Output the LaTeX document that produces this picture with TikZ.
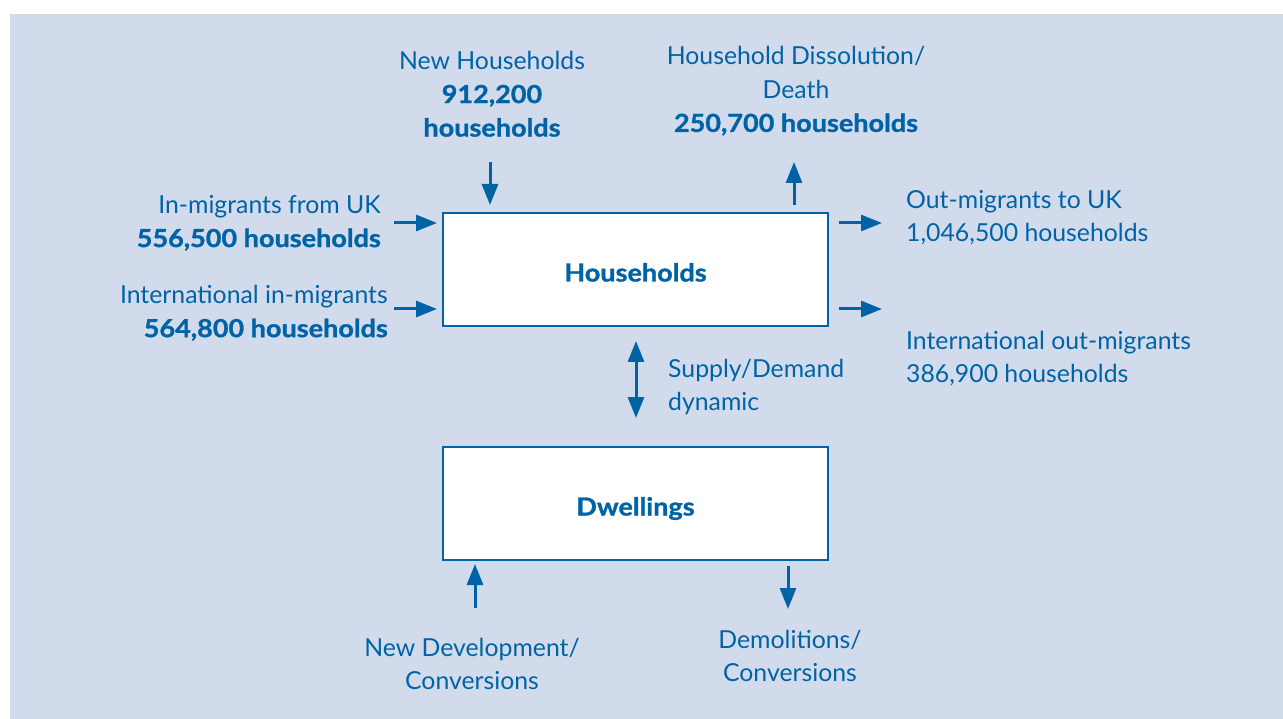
\documentclass[tikz,border=0pt]{standalone}
\usepackage{fontspec}
\setmainfont{Lato}[BoldFeatures={FakeBold=1.2,FakeStretch=1.09}]
\usetikzlibrary{arrows.meta}
\definecolor{bgblue}{HTML}{D2DBEB}
\definecolor{ink}{HTML}{0063A6}
\begin{document}
\begin{tikzpicture}[x=1pt,y=-1pt,
  lbl/.style={text=ink,inner sep=0pt,font=\fontsize{24.8}{33.5}\selectfont},
  boxnode/.style={draw=ink,line width=2pt,fill=white,minimum width=385pt,minimum height=113pt,text=ink,font=\fontsize{24.8}{33}\selectfont\bfseries},
  flow/.style={draw=ink,line width=3pt,-{Triangle[length=21pt,width=16pt]}},
  bflow/.style={draw=ink,line width=3pt,{Triangle[length=21pt,width=16pt]}-{Triangle[length=21pt,width=16pt]}}
]
\useasboundingbox (0,0) rectangle (1283,719);
\fill[bgblue] (10,14) rectangle (1283,719);

\node[boxnode] (hh) at (635.5,269.5) {\raisebox{-12pt}[0pt][0pt]{Households}};
\node[boxnode] (dw) at (635.5,503.5) {\raisebox{-12pt}[0pt][0pt]{Dwellings}};

\node[lbl,align=center] (newhh) at (492,94) {New Households\\\textbf{912,200}\\\textbf{households}};
\node[lbl,align=center] (diss) at (796,91) {Household Dissolution/\\Death\\\textbf{250,700 households}};
\node[lbl,align=right,anchor=east] (inuk) at (381,223) {In-migrants from UK\\\textbf{556,500 households}};
\node[lbl,align=right,anchor=east] (inint) at (388,313) {International in-migrants\\\textbf{564,800 households}};
\node[lbl,align=left,anchor=west] (outuk) at (906,217.5) {Out-migrants to UK\\1,046,500 households};
\node[lbl,align=left,anchor=west] (outint) at (906,358.5) {International out-migrants\\386,900 households};
\node[lbl,align=left,anchor=west] (sd) at (668,387) {Supply/Demand\\dynamic};
\node[lbl,align=center] (newdev) at (472,664) {New Development/\\Conversions};
\node[lbl,align=center] (demo) at (790,656) {Demolitions/\\Conversions};

\coordinate (a1s) at (490,162);
\coordinate (a1e) at (490,205);
\coordinate (a2s) at (794,205);
\coordinate (a2e) at (794,162);
\coordinate (a3s) at (394,223);
\coordinate (a3e) at (437,223);
\coordinate (a4s) at (394,309);
\coordinate (a4e) at (437,309);
\coordinate (a5s) at (839,223);
\coordinate (a5e) at (882,223);
\coordinate (a6s) at (839,309);
\coordinate (a6e) at (882,309);
\coordinate (a7s) at (636,341);
\coordinate (a7e) at (636,418);
\coordinate (a8s) at (475,608);
\coordinate (a8e) at (475,564);
\coordinate (a9s) at (788,566);
\coordinate (a9e) at (788,609);

\draw[flow] (a1s) -- (a1e);
\draw[flow] (a2s) -- (a2e);
\draw[flow] (a3s) -- (a3e);
\draw[flow] (a4s) -- (a4e);
\draw[flow] (a5s) -- (a5e);
\draw[flow] (a6s) -- (a6e);
\draw[bflow] (a7s) -- (a7e);
\draw[flow] (a8s) -- (a8e);
\draw[flow] (a9s) -- (a9e);
\end{tikzpicture}
\end{document}
